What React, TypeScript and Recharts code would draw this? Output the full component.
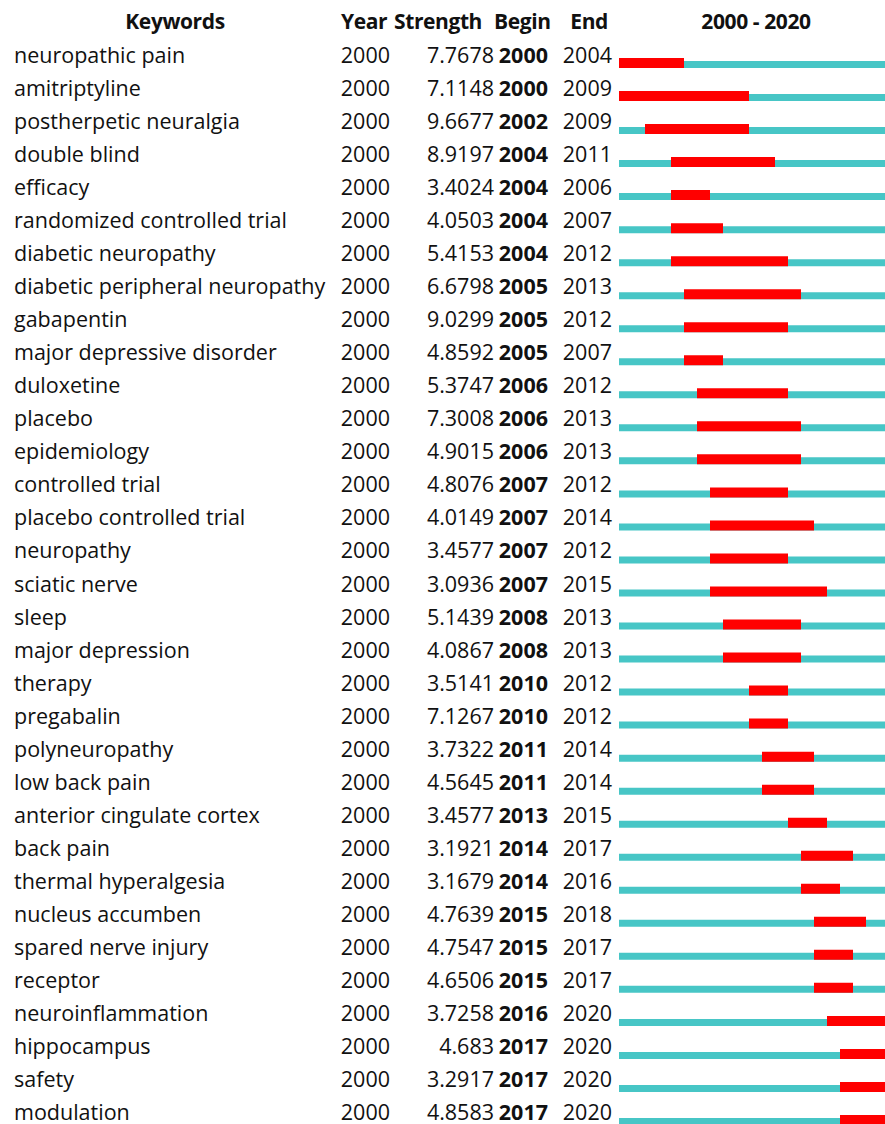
import { Bar, ComposedChart, XAxis, YAxis } from 'recharts'

const keywords = [
	'neuropathic pain', 'amitriptyline', 'postherpetic neuralgia', 'double blind', 'efficacy',
	'randomized controlled trial', 'diabetic neuropathy', 'diabetic peripheral neuropathy', 'gabapentin',
	'major depressive disorder', 'duloxetine', 'placebo', 'epidemiology', 'controlled trial',
	'placebo controlled trial', 'neuropathy', 'sciatic nerve', 'sleep', 'major depression', 'therapy',
	'pregabalin', 'polyneuropathy', 'low back pain', 'anterior cingulate cortex', 'back pain',
	'thermal hyperalgesia', 'nucleus accumben', 'spared nerve injury', 'receptor', 'neuroinflammation',
	'hippocampus', 'safety', 'modulation',
]

const strengths = [
	'7.7678', '7.1148', '9.6677', '8.9197', '3.4024', '4.0503', '5.4153', '6.6798', '9.0299', '4.8592',
	'5.3747', '7.3008', '4.9015', '4.8076', '4.0149', '3.4577', '3.0936', '5.1439', '4.0867', '3.5141',
	'7.1267', '3.7322', '4.5645', '3.4577', '3.1921', '3.1679', '4.7639', '4.7547', '4.6506', '3.7258',
	'4.683', '3.2917', '4.8583',
]

const beginYears = [
	2000, 2000, 2002, 2004, 2004, 2004, 2004, 2005, 2005, 2005, 2006, 2006, 2006, 2007, 2007, 2007, 2007,
	2008, 2008, 2010, 2010, 2011, 2011, 2013, 2014, 2014, 2015, 2015, 2015, 2016, 2017, 2017, 2017,
]

const endYears = [
	2004, 2009, 2009, 2011, 2006, 2007, 2012, 2013, 2012, 2007, 2012, 2013, 2013, 2012, 2014, 2012, 2015,
	2013, 2013, 2012, 2012, 2014, 2014, 2015, 2017, 2016, 2018, 2017, 2017, 2020, 2020, 2020, 2020,
]

const firstYear = 2000
const lastYear = 2020

const rows = keywords.map((keyword, i) => ({
	keyword,
	year: firstYear,
	strength: strengths[i],
	begin: beginYears[i],
	end: endYears[i],
	span: [firstYear, lastYear + 1],
	burst: [beginYears[i], endYears[i] + 1],
}))

const FONT = '"Open Sans", "Noto Sans", sans-serif'

const RowTick = (props: any) => {
	const { y, payload } = props
	const row = rows[payload.index]
	if (!row) return null
	const ty = y - 1.5
	return (
		<g fontFamily={FONT} fontSize={21.5} fill="#111">
			<text x={14} y={ty} textAnchor="start">{row.keyword}</text>
			<text x={390} y={ty} textAnchor="end">{row.year}</text>
			<text x={494} y={ty} textAnchor="end">{row.strength}</text>
			<text x={548} y={ty} textAnchor="end" fontWeight="bold">{row.begin}</text>
			<text x={612} y={ty} textAnchor="end">{row.end}</text>
		</g>
	)
}

const headStyle = (left: number, anchor: 'start' | 'middle' | 'end'): any => ({
	position: 'absolute',
	top: 7,
	left,
	transform: anchor === 'middle' ? 'translateX(-50%)' : anchor === 'end' ? 'translateX(-100%)' : undefined,
	fontFamily: FONT,
	fontWeight: 'bold',
	fontSize: 21,
	letterSpacing: '-0.4px',
	lineHeight: '28px',
	color: '#111',
	whiteSpace: 'nowrap',
})

const App = () => {
	return (
		<div style={{ position: 'fixed', left: 0, top: 0, width: 885, height: 1124, overflow: 'hidden', background: '#fff' }}>
			<span style={headStyle(175, 'middle')}>Keywords</span>
			<span style={headStyle(341, 'start')}>Year</span>
			<span style={headStyle(394, 'start')}>Strength</span>
			<span style={headStyle(494, 'start')}>Begin</span>
			<span style={headStyle(608, 'end')}>End</span>
			<span style={headStyle(756, 'middle')}>{`${firstYear} - ${lastYear}`}</span>
			<ComposedChart
				width={892}
				height={1140}
				data={rows}
				layout="vertical"
				margin={{ top: 48, right: 0, bottom: 2, left: 0 }}
				barGap={-10}
			>
				<XAxis type="number" domain={[firstYear, lastYear + 1]} hide />
				<YAxis
					type="category"
					dataKey="keyword"
					width={619}
					interval={0}
					axisLine={false}
					tickLine={false}
					tick={RowTick}
				/>
				<Bar dataKey="span" barSize={7} fill="#47C6C6" isAnimationActive={false} />
				<Bar dataKey="burst" barSize={10} fill="#FF0000" isAnimationActive={false} />
			</ComposedChart>
		</div>
	)
}

export default App
